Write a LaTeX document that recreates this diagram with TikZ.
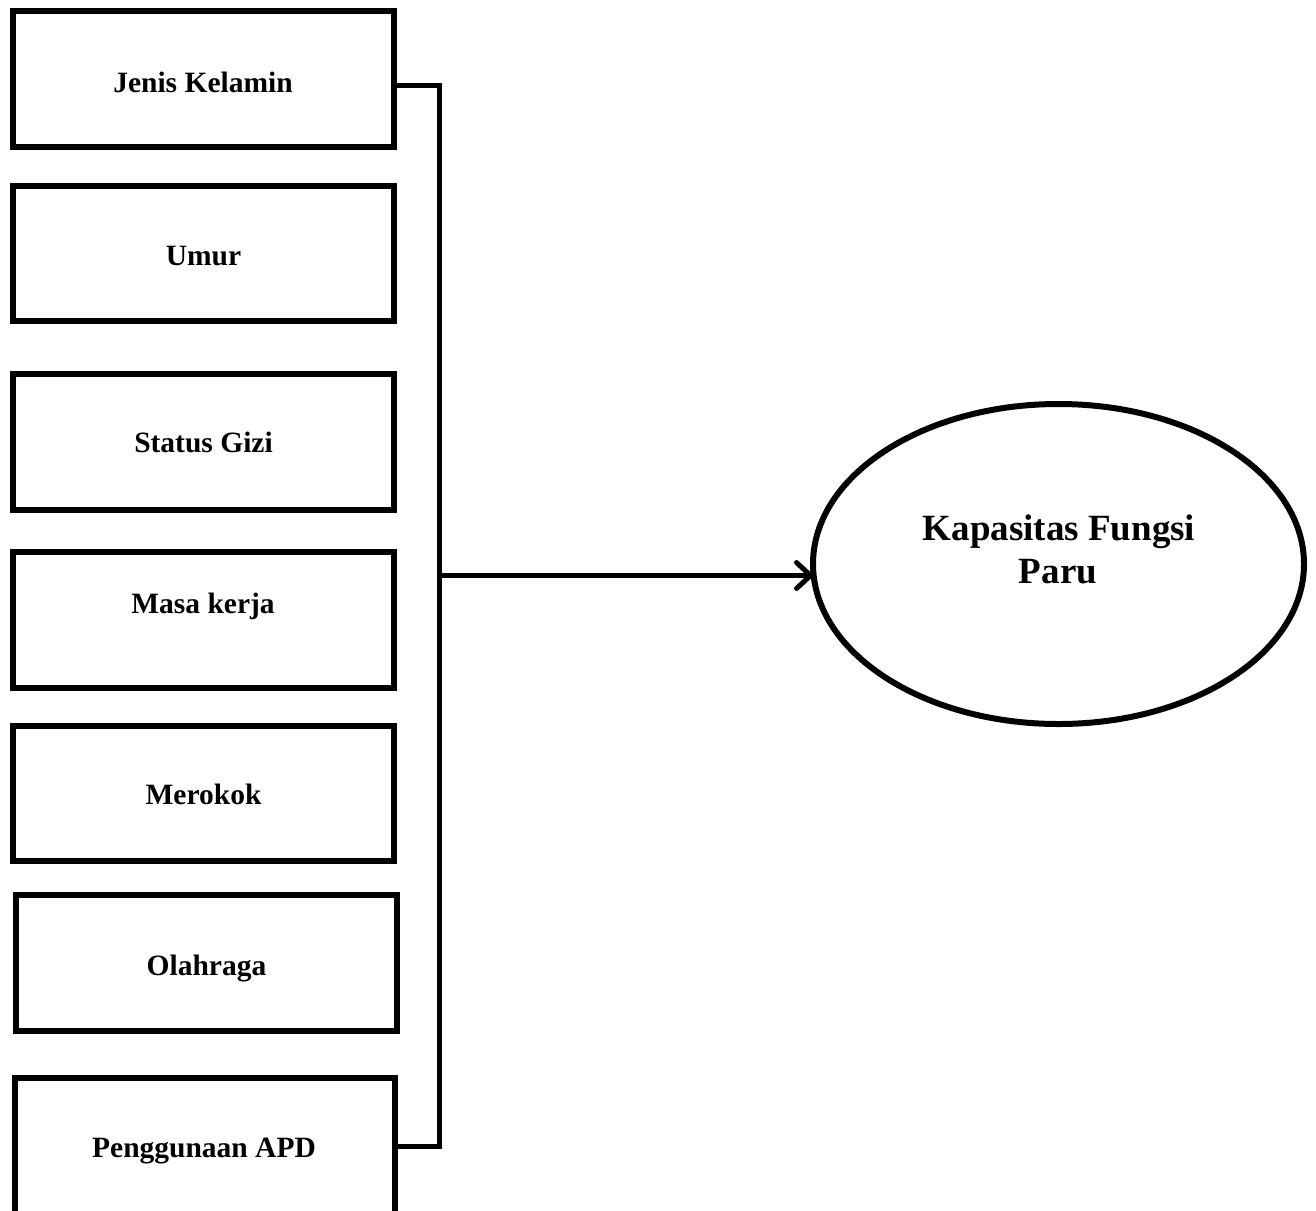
\documentclass[tikz,border=0pt]{standalone}
\usepackage{fontspec}
\setmainfont{Liberation Serif}
\usetikzlibrary{arrows.meta,shapes.geometric}
\tikzset{
  varbox/.style={draw, line width=6pt, rectangle, minimum width=381pt, minimum height=136pt, inner sep=0pt, outer sep=3pt},
  boxtext/.style={font=\bfseries\fontsize{29.5pt}{35pt}\selectfont, inner sep=0pt, anchor=base},
  outcome/.style={draw, line width=6pt, ellipse, minimum width=491pt, minimum height=320pt, inner sep=0pt, outer sep=0pt},
  outtext/.style={font=\bfseries\fontsize{37pt}{43pt}\selectfont, inner sep=0pt, align=center, anchor=base},
  conn/.style={line width=5pt, line join=miter},
  arrowconn/.style={line width=5pt, -{Straight Barb[length=14pt, width=26pt, round]}}
}
\begin{document}
\begin{tikzpicture}[x=1pt, y=-1pt]
\clip (0,0) rectangle (1316,1210);
\fill[white] (0,0) rectangle (1316,1210);
% boxes
\node[varbox] (b1) at (203.5,79) {};
\node[varbox, minimum height=135pt] (b2) at (203.5,253.5) {};
\node[varbox] (b3) at (203.5,442) {};
\node[varbox] (b4) at (203.5,620) {};
\node[varbox, minimum height=135pt] (b5) at (203.5,793.5) {};
\node[varbox] (b6) at (206.5,963) {};
\node[varbox, minimum width=380pt] (b7) at (205,1146) {};
% texts
\node[boxtext] (t1) at (203,92) {Jenis Kelamin};
\node[boxtext] (t2) at (203.5,265) {Umur};
\node[boxtext] (t3) at (203.5,452) {Status Gizi};
\node[boxtext] (t4) at (203,613) {Masa kerja};
\node[boxtext] (t5) at (203.5,804) {Merokok};
\node[boxtext] (t6) at (206.5,975) {Olahraga};
\node[boxtext] (t7) at (204,1157) {Penggunaan APD};
% outcome
\node[outcome] (out) at (1058.5,564) {};
\node[outtext] (o1) at (1059,540) {Kapasitas Fungsi};
\node[outtext] (o2) at (1058,583) {Paru};
% connectors
\coordinate (bustop) at (439,85.5);
\coordinate (busbot) at (439,1146);
\coordinate (junc) at (439,575.5);
\draw[conn] ([yshift=-6.5pt]b1.east) -- (bustop) -- (busbot) -- (b7.east |- busbot);
\draw[arrowconn] (junc) -- (out.west |- junc);
\end{tikzpicture}
\end{document}
